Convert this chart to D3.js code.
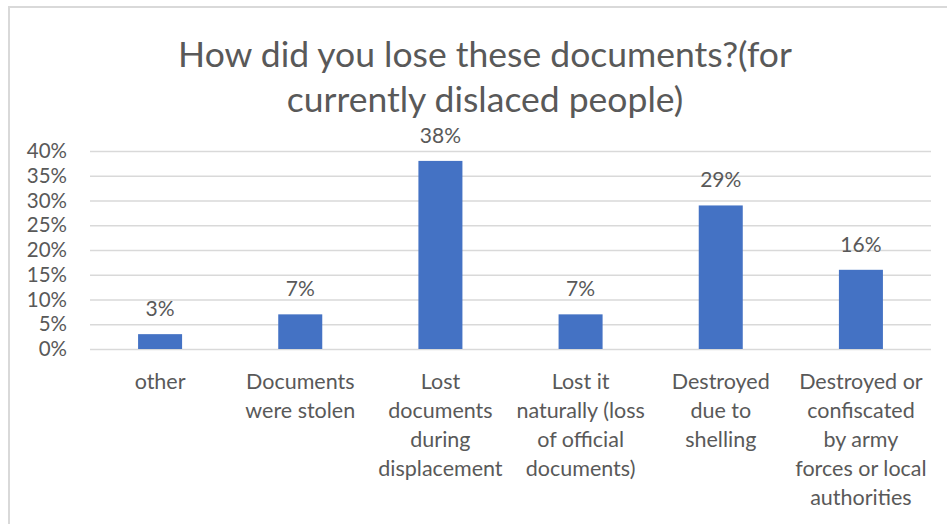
<!DOCTYPE html>
<html>
<head>
<meta charset="utf-8">
<script src="https://cdn.jsdelivr.net/npm/d3@7"></script>
<style>
  html, body { margin: 0; padding: 0; background: #ffffff; }
  svg { display: block; }
  text { font-family: Lato, "Open Sans", "Liberation Sans", sans-serif; fill: #595959; }
</style>
</head>
<body>
<svg id="chart" width="947" height="524"></svg>
<script>
// Survey answers: how displaced people lost their documents
const categories = [
  "other",
  "Documents were stolen",
  "Lost documents during displacement",
  "Lost it naturally (loss of official documents)",
  "Destroyed due to shelling",
  "Destroyed or confiscated by army forces or local authorities"
];
// Category labels broken into display lines
const categoryLines = [
  ["other"],
  ["Documents", "were stolen"],
  ["Lost", "documents", "during", "displacement"],
  ["Lost it", "naturally (loss", "of official", "documents)"],
  ["Destroyed", "due to", "shelling"],
  ["Destroyed or", "confiscated", "by army", "forces or local", "authorities"]
];
const shares = [0.03, 0.07, 0.38, 0.07, 0.29, 0.16];
const yTicks = [0, 0.05, 0.10, 0.15, 0.20, 0.25, 0.30, 0.35, 0.40];
const titleLines = ["How did you lose these documents?(for", "currently dislaced people)"];

const svg = d3.select("#chart");

// Chart frame (extends past the right and bottom edges of the view)
svg.append("rect")
  .attr("x", 9).attr("y", 7)
  .attr("width", 960).attr("height", 540)
  .attr("fill", "none")
  .attr("stroke", "#d9d9d9")
  .attr("stroke-width", 2);

const plot = { left: 90, right: 931, top: 151, bottom: 349 };

const x = d3.scaleBand()
  .domain(categories)
  .range([plot.left, plot.right])
  .paddingInner(0.686)
  .paddingOuter(0.343);

const y = d3.scaleLinear()
  .domain([0, 0.40])
  .range([plot.bottom, plot.top]);

// Title
svg.append("g")
  .selectAll("text")
  .data(titleLines)
  .join("text")
  .attr("x", 485)
  .attr("y", (d, i) => 67 + i * 45)
  .attr("text-anchor", "middle")
  .attr("font-size", 35.5)
  .text(d => d);

// Horizontal gridlines and percentage tick labels
const yAxis = d3.axisLeft(y)
  .tickValues(yTicks)
  .tickFormat(d3.format(".0%"))
  .tickSize(-(plot.right - plot.left))
  .tickPadding(23);

const gy = svg.append("g")
  .attr("transform", `translate(${plot.left},0)`)
  .call(yAxis);
gy.select(".domain").remove();
gy.selectAll(".tick line")
  .attr("stroke", "#d9d9d9")
  .attr("stroke-width", 1.5);
gy.selectAll(".tick text")
  .attr("font-size", 20.5)
  .attr("fill", "#595959")
  .attr("font-family", "Lato, 'Open Sans', sans-serif");

// Bars
svg.append("g")
  .selectAll("rect")
  .data(shares)
  .join("rect")
  .attr("x", (d, i) => x(categories[i]))
  .attr("y", d => y(d))
  .attr("width", x.bandwidth())
  .attr("height", d => y(0) - y(d))
  .attr("fill", "#4472C4");

// Value labels above bars
svg.append("g")
  .selectAll("text")
  .data(shares)
  .join("text")
  .attr("x", (d, i) => x(categories[i]) + x.bandwidth() / 2)
  .attr("y", d => y(d) - 18)
  .attr("text-anchor", "middle")
  .attr("font-size", 21)
  .text(d => d3.format(".0%")(d));

// Category labels, wrapped onto several lines
const cat = svg.append("g")
  .selectAll("text")
  .data(categoryLines)
  .join("text")
  .attr("text-anchor", "middle")
  .attr("font-size", 21.5)
  .attr("transform", (d, i) => `translate(${x(categories[i]) + x.bandwidth() / 2},389)`);
cat.selectAll("tspan")
  .data(d => d)
  .join("tspan")
  .attr("x", 0)
  .attr("y", (d, j) => j * 29)
  .text(d => d);
</script>
</body>
</html>
